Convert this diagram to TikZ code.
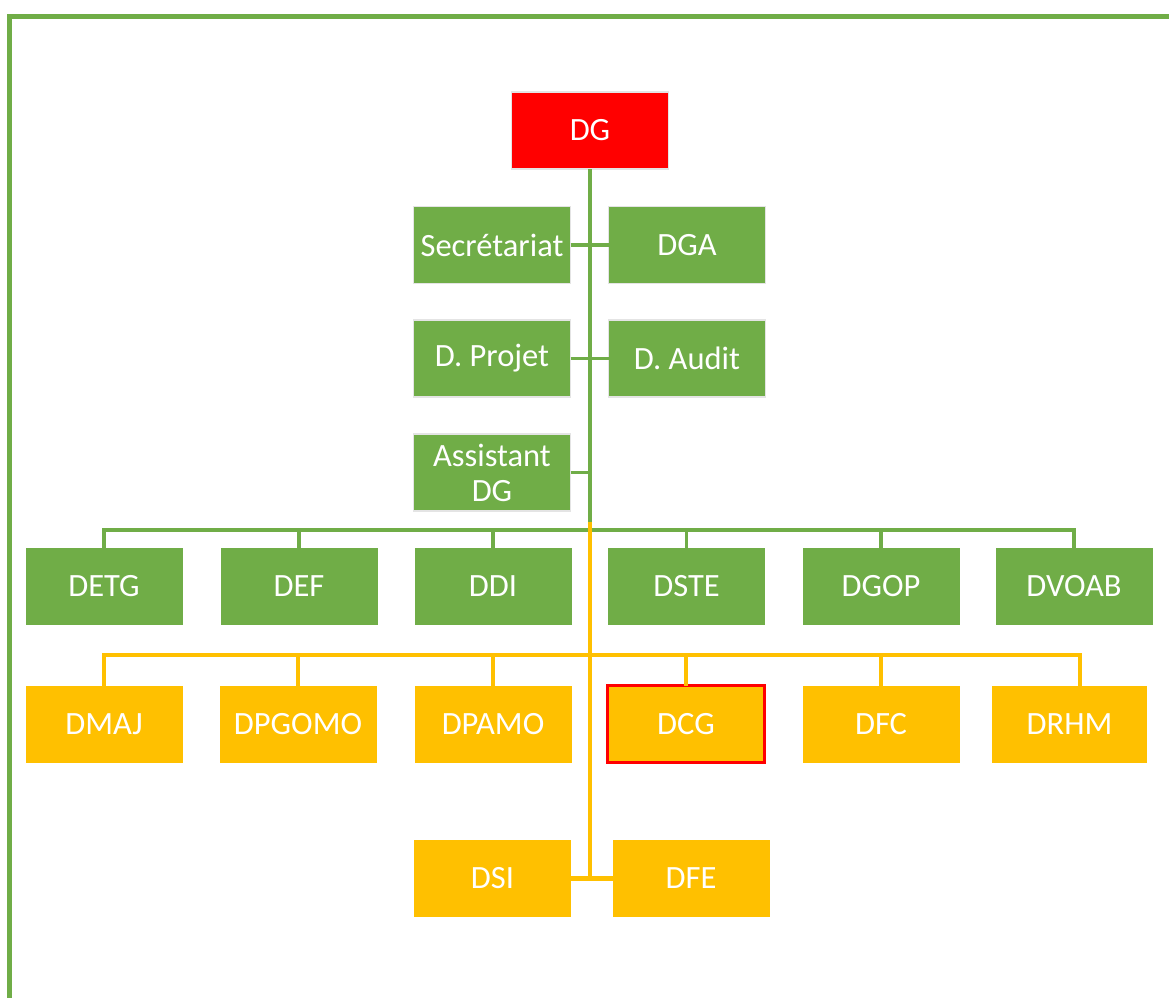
\documentclass[tikz,border=0pt]{standalone}
\usepackage{fontspec}
\setmainfont{Carlito}
\definecolor{orggreen}{HTML}{70AD47}
\definecolor{orgyellow}{HTML}{FFC000}
\definecolor{orgred}{HTML}{FF0000}
\definecolor{boxedge}{HTML}{E4E4E4}
\begin{document}
\begin{tikzpicture}[x=1pt,y=-1pt,
  unit/.style={minimum width=157pt,minimum height=77pt,inner sep=0pt,outer sep=0pt,
    text=white,font=\fontsize{32.5}{35}\selectfont,align=center},
  topbox/.style={unit,fill=orgred,draw=boxedge,line width=1.5pt},
  staffbox/.style={unit,fill=orggreen,draw=boxedge,line width=1.5pt},
  greenbox/.style={unit,fill=orggreen},
  yellowbox/.style={unit,fill=orgyellow},
  glink/.style={draw=orggreen,line width=3.5pt},
  ylink/.style={draw=orgyellow,line width=4.5pt}]
\useasboundingbox (0,0) rectangle (1169,997);

% outer frame (runs past the right and bottom edges)
\draw[orggreen,line width=5pt] (9.5,1010) -- (9.5,16.5) -- (1180,16.5);

% head
\node[topbox] (dg) at (590,130.5) {DG};

% staff units beside the trunk
\node[staffbox] (sec)  at (492,245) {Secrétariat};
\node[staffbox] (dga)  at (687,245) {DGA};
\node[staffbox] (proj) at (492,358.5) {D. Projet};
\node[staffbox] (aud)  at (687,358.5) {D. Audit};
\node[staffbox] (asst) at (492,472.5) {Assistant\\DG};

% first row of directorates
\node[greenbox] (detg)  at (104,586) {DETG};
\node[greenbox] (def)   at (299,586) {DEF};
\node[greenbox] (ddi)   at (493,586) {DDI};
\node[greenbox] (dste)  at (686.5,586) {DSTE};
\node[greenbox] (dgop)  at (881,586) {DGOP};
\node[greenbox] (dvoab) at (1074,586) {DVOAB};

% second row of directorates
\node[yellowbox] (dmaj)   at (104,724) {DMAJ};
\node[yellowbox] (dpgomo) at (298,724) {DPGOMO};
\node[yellowbox] (dpamo)  at (493,724) {DPAMO};
\node[yellowbox,draw=orgred,line width=3pt] (dcg) at (686,724) {DCG};
\node[yellowbox] (dfc)    at (881,724) {DFC};
\node[yellowbox,minimum width=155pt] (drhm) at (1069.5,724) {DRHM};

% third row
\node[yellowbox] (dsi) at (492.5,878.5) {DSI};
\node[yellowbox] (dfe) at (691,878.5) {DFE};

% junction points on the trunk
\coordinate (gbus) at (590,530);
\coordinate (ytop) at (590,522);
\coordinate (ybus) at (590,655);
\coordinate (ybot) at (590,877);

% green trunk and staff links
\path[glink] (dg.south) -- (gbus);
\path[glink] (sec.east) -- (dga.west);
\path[glink] (proj.east) -- (aud.west);
\path[glink] (asst.east) -- (asst.east -| gbus);

% green bus to the first row
\path[glink] (gbus) -| (detg.north);
\path[glink] (gbus) -| (def.north);
\path[glink] (gbus) -| (ddi.north);
\path[glink] (gbus) -| (dste.north);
\path[glink] (gbus) -| (dgop.north);
\path[glink] (gbus) -| (dvoab.north);

% yellow trunk, bus to the second row, and the last pair
\path[ylink] (ytop) -- (ybot);
\path[ylink] (ybus) -| (dmaj.north);
\path[ylink] (ybus) -| (dpgomo.north);
\path[ylink] (ybus) -| (dpamo.north);
\path[ylink] (ybus) -| (dcg.north);
\path[ylink] (ybus) -| (dfc.north);
\path[ylink] (ybus) -| ([xshift=10.5pt]drhm.north);
\path[ylink] (dsi.east) -- (dfe.west);
\end{tikzpicture}
\end{document}
